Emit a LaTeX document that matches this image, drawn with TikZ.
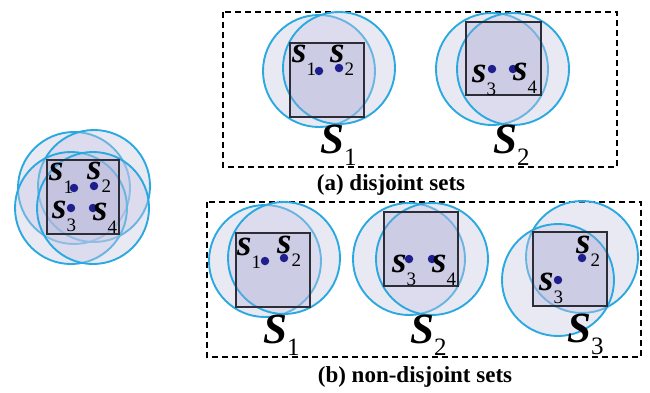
\documentclass[tikz,border=0pt]{standalone}
\usepackage{fontspec}
\setmainfont{Liberation Serif}
\definecolor{ringblue}{RGB}{41,169,224}
\definecolor{ringfill}{RGB}{200,200,228}
\definecolor{sqfill}{RGB}{170,170,210}
\definecolor{dotblue}{RGB}{30,30,140}
\definecolor{sqedge}{RGB}{45,45,55}
\tikzset{
  ring/.style={draw=ringblue, line width=1.9pt, fill=ringfill, fill opacity=0.4, draw opacity=1},
  cell/.style={draw=sqedge, line width=1.4pt, fill=sqfill, fill opacity=0.3, draw opacity=1},
  pt/.style={circle, fill=dotblue, inner sep=0pt, minimum size=8.5pt},
  slab/.style={anchor=base west, inner sep=0pt, font=\fontsize{37}{37}\selectfont},
  blab/.style={anchor=base west, inner sep=0pt, font=\fontsize{43}{43}\selectfont},
  frame/.style={draw=black, line width=1.3pt, dash pattern=on 6pt off 4pt},
  caption/.style={anchor=base, inner sep=0pt, font=\fontsize{23}{23}\selectfont\bfseries}
}
\newcommand{\smallsym}[1]{{\bfseries\itshape s}\raisebox{-13pt}{\fontsize{19}{19}\selectfont #1}}
\newcommand{\bigsym}[1]{{\bfseries\itshape S}\raisebox{-12pt}{\fontsize{25}{25}\selectfont #1}}
\begin{document}
\begin{tikzpicture}[x=1pt, y=-1pt]
\useasboundingbox (0,0) rectangle (650,392);

% ---- all four points in one cell ----
\foreach \x/\y in {74/188, 94/186, 71/208, 93/208}
  \draw[ring] (\x,\y) circle (56);
\draw[cell] (47,160) rectangle (119,234);
\node[pt] (c1) at (74,188) {};
\node[pt] (c2) at (94,186) {};
\node[pt] (c3) at (71,208) {};
\node[pt] (c4) at (93,208) {};
\node[slab] (lc1) at (49,180) {\smallsym{1}};
\node[slab] (lc2) at (87,179) {\smallsym{2}};
\node[slab] (lc3) at (52,218) {\smallsym{3}};
\node[slab] (lc4) at (93,220) {\smallsym{4}};

% ---- (a) disjoint sets ----
\draw[frame] (223,12) rectangle (617,167);
% S1
\draw[ring] (319,71) circle (56);
\draw[ring] (339,68) circle (56);
\draw[cell] (290,43) rectangle (364,117);
\node[pt] (a1) at (319,71) {};
\node[pt] (a2) at (339,68) {};
\node[slab] (la1) at (292,62) {\smallsym{1}};
\node[slab] (la2) at (330,62) {\smallsym{2}};
\node[blab] (sa1) at (320,153) {\bigsym{1}};
% S2
\draw[ring] (492,69) circle (56);
\draw[ring] (513,69) circle (56);
\draw[cell] (466,22) rectangle (541,95);
\node[pt] (a3) at (492,69) {};
\node[pt] (a4) at (513,69) {};
\node[slab] (la3) at (472,82) {\smallsym{3}};
\node[slab] (la4) at (513,80) {\smallsym{4}};
\node[blab] (sa2) at (493,153) {\bigsym{2}};
\node[caption] (capa) at (391,190) {(a) disjoint sets};

% ---- (b) non-disjoint sets ----
\draw[frame] (207,202) rectangle (641,357);
% S1
\draw[ring] (265,261) circle (56);
\draw[ring] (284,258) circle (56);
\draw[cell] (236,233) rectangle (310,307);
\node[pt] (b1) at (265,261) {};
\node[pt] (b2) at (284,258) {};
\node[slab] (lb1) at (237,255) {\smallsym{1}};
\node[slab] (lb2) at (277,253) {\smallsym{2}};
\node[blab] (sb1) at (263,343) {\bigsym{1}};
% S2
\draw[ring] (409,259) circle (56);
\draw[ring] (432,259) circle (56);
\draw[cell] (384,212) rectangle (458,286);
\node[pt] (b3) at (409,259) {};
\node[pt] (b4) at (432,259) {};
\node[slab] (lb3) at (392,272) {\smallsym{3}};
\node[slab] (lb4) at (432,272) {\smallsym{4}};
\node[blab] (sb2) at (410,343) {\bigsym{2}};
% S3
\draw[ring] (582,257) circle (56);
\draw[ring] (558,280) circle (56);
\draw[cell] (533,232) rectangle (607,306);
\node[pt] (b5) at (582,258) {};
\node[pt] (b6) at (558,280) {};
\node[slab] (lb5) at (576,253) {\smallsym{2}};
\node[slab] (lb6) at (539,290) {\smallsym{3}};
\node[blab] (sb3) at (567,342) {\bigsym{3}};
\node[caption] (capb) at (415,382) {(b) non-disjoint sets};
\end{tikzpicture}
\end{document}
